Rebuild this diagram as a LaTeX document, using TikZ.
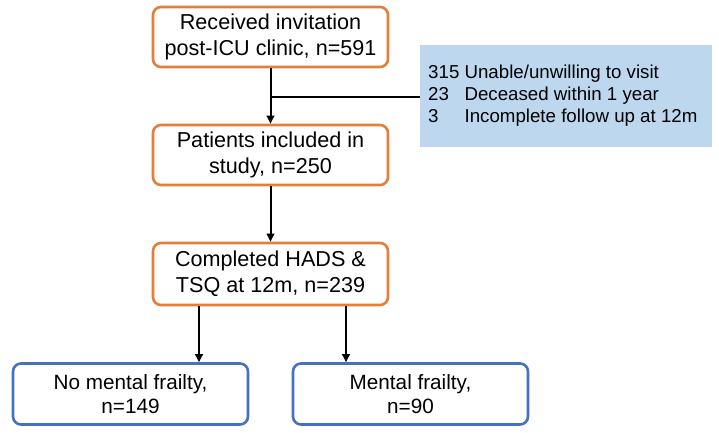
\documentclass[tikz,border=0pt]{standalone}
\usepackage{fontspec}
\setmainfont{Liberation Sans}
\usetikzlibrary{arrows.meta}
\definecolor{orng}{HTML}{E57E36}
\definecolor{blu}{HTML}{4670C0}
\definecolor{lblue}{HTML}{BDD7EE}
\begin{document}
\begin{tikzpicture}[x=1pt,y=-1pt,
  obox/.style={draw=orng, line width=2.6pt, rounded corners=8pt, fill=white,
    minimum width=235pt, minimum height=60pt, align=center, inner sep=0pt,
    font=\fontsize{21.6}{26}\selectfont},
  bbox/.style={draw=blu, line width=2.6pt, rounded corners=8pt, fill=white,
    minimum width=235pt, minimum height=61pt, align=center, inner sep=0pt,
    font=\fontsize{20.7}{24.5}\selectfont},
  conn/.style={line width=2pt, black},
  arr/.style={conn, -{Triangle[length=8pt,width=7.5pt]}}]
\useasboundingbox (0,0) rectangle (719,433);
\node[obox] (a) at (270.5,37) {Received invitation\\post-ICU clinic, n=591};
\node[obox] (b) at (270.5,155) {Patients included in\\study, n=250};
\node[obox, minimum height=62pt] (c) at (270.5,274) {Completed HADS \&\\TSQ at 12m, n=239};
\node[bbox] (d) at (130.5,394) {No mental frailty,\\n=149};
\node[bbox] (e) at (410.5,394) {Mental frailty,\\n=90};
\node[fill=lblue, minimum width=292pt, minimum height=102pt, inner sep=0pt] (x) at (566,96) {};
\node[anchor=west, inner sep=0pt, font=\fontsize{18.7}{22}\selectfont] (xt) at (428,96.6)
  {\begin{tabular}{@{}l@{\hspace{5.2pt}}l@{}}
   315 & Unable/unwilling to visit\\
   23 & Deceased within 1 year\\
   3 & Incomplete follow up at 12m
   \end{tabular}};
\coordinate (j) at (270.5,97);
\coordinate (l) at (199,0);
\coordinate (r) at (346,0);
\draw[arr] (a) -- (b);
\draw[conn] (j) -- (j -| x.west);
\draw[arr] (b) -- (c);
\draw[arr] (c.south -| l) -- (d.north -| l);
\draw[arr] (c.south -| r) -- (e.north -| r);
\end{tikzpicture}
\end{document}
